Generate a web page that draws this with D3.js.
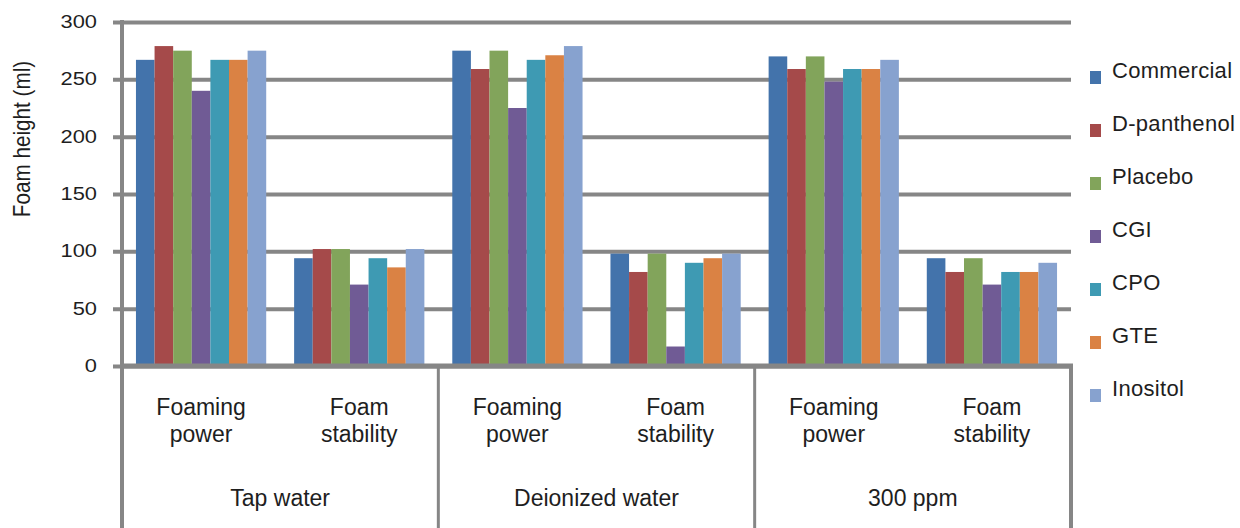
<!DOCTYPE html>
<html>
<head>
<meta charset="utf-8">
<script src="https://cdn.jsdelivr.net/npm/d3@7/dist/d3.min.js"></script>
<style>
  html, body { margin: 0; padding: 0; background: #ffffff; }
  svg { display: block; }
  text { font-family: "Liberation Sans", Arial, sans-serif; fill: #1e1e1e; }
</style>
</head>
<body>
<svg id="chart" width="1240" height="528"></svg>
<script>
// Water types (outer categories) and the two measurements inside each
const waterTypes = ["Tap water", "Deionized water", "300 ppm"];
const measures = [["Foaming", "power"], ["Foam", "stability"]];

// Formulations (series)
const seriesNames = ["Commercial", "D-panthenol", "Placebo", "CGI", "CPO", "GTE", "Inositol"];
const seriesColors = ["#4373ab", "#a54a4a", "#82a45b", "#705b95", "#3e9ab3", "#da8244", "#87a2cf"];

// Foam height (ml) in order: Tap FP, Tap FS, Deionized FP, Deionized FS, 300 ppm FP, 300 ppm FS
const commercial = [267, 94, 275, 98, 270, 94];
const dPanthenol = [279, 102, 259, 82, 259, 82];
const placebo    = [275, 102, 275, 98, 270, 94];
const cgi        = [240, 71, 225, 17, 248, 71];
const cpo        = [267, 94, 267, 90, 259, 82];
const gte        = [267, 86, 271, 94, 259, 82];
const inositol   = [275, 102, 279, 98, 267, 90];

const yTicks = [0, 50, 100, 150, 200, 250, 300];
const yTitle = "Foam height (ml)";

const seriesValues = [commercial, dPanthenol, placebo, cgi, cpo, gte, inositol];

// Flattened sub-categories: one per (water type, measure)
const subCats = [];
waterTypes.forEach((w, wi) => measures.forEach((m, mi) => subCats.push({ key: wi * 2 + mi, water: w, label: m })));

const rows = [];
seriesNames.forEach((s, si) => {
  seriesValues[si].forEach((v, ci) => rows.push({ series: s, cat: ci, value: v, color: seriesColors[si] }));
});

const svg = d3.select("#chart");
const plotLeft = 122, plotRight = 1071, plotTop = 22, plotBottom = 366;
const gridColor = "#868686";

const x0 = d3.scaleBand().domain(subCats.map(d => d.key)).range([plotLeft, plotRight]).paddingInner(0).paddingOuter(0);
const x1 = d3.scaleBand().domain(seriesNames).range([0, x0.bandwidth()]).paddingInner(0).paddingOuter(0.75);
const y = d3.scaleLinear().domain([0, 300]).range([plotBottom, plotTop]);

// Horizontal gridlines with tick labels
const yAxis = d3.axisLeft(y)
  .tickValues(yTicks)
  .tickSizeInner(-(plotRight - 113))
  .tickSizeOuter(0)
  .tickPadding(16)
  .tickFormat(d3.format("d"));

const gy = svg.append("g").attr("transform", "translate(113,0)").call(yAxis);
gy.select(".domain").remove();
gy.selectAll(".tick line").attr("stroke", gridColor).attr("stroke-width", 4);
gy.selectAll(".tick text")
  .attr("x", null)
  .attr("dy", "0.35em")
  .attr("transform", "translate(-16,-1) scale(1.15,1)")
  .attr("font-size", 19)
  .attr("font-family", "'Liberation Sans', Arial, sans-serif")
  .attr("fill", "#1e1e1e");

// Bars
svg.append("g")
  .selectAll("rect")
  .data(rows)
  .join("rect")
  .attr("x", d => x0(d.cat) + x1(d.series))
  .attr("y", d => y(d.value))
  .attr("width", x1.bandwidth())
  .attr("height", d => y(0) - y(d.value))
  .attr("fill", d => d.color);

// Value axis line and category axis line
svg.append("line")
  .attr("x1", plotLeft).attr("x2", plotLeft)
  .attr("y1", plotTop - 2).attr("y2", 528)
  .attr("stroke", gridColor).attr("stroke-width", 4);
svg.append("line")
  .attr("x1", plotLeft - 2).attr("x2", plotRight + 2)
  .attr("y1", plotBottom).attr("y2", plotBottom)
  .attr("stroke", gridColor).attr("stroke-width", 5);

// Separators between water types in the category area
const bounds = [x0(0), x0(2), x0(4), plotRight];
svg.append("g")
  .selectAll("line")
  .data(bounds)
  .join("line")
  .attr("x1", d => d).attr("x2", d => d)
  .attr("y1", plotBottom).attr("y2", 528)
  .attr("stroke", gridColor)
  .attr("stroke-width", (d, i) => (i === 0 || i === bounds.length - 1) ? 4 : 3);

// Measure labels (two lines)
const mLabels = svg.append("g")
  .selectAll("text")
  .data(subCats)
  .join("text")
  .attr("text-anchor", "middle")
  .attr("font-size", 23)
  .attr("x", d => x0(d.key) + x0.bandwidth() / 2)
  .attr("y", 415);
mLabels.append("tspan").text(d => d.label[0]);
mLabels.append("tspan")
  .attr("x", d => x0(d.key) + x0.bandwidth() / 2)
  .attr("dy", 27)
  .text(d => d.label[1]);

// Water type labels
svg.append("g")
  .selectAll("text")
  .data(waterTypes)
  .join("text")
  .attr("text-anchor", "middle")
  .attr("font-size", 23)
  .attr("x", (d, i) => (x0(i * 2) + x0(i * 2 + 1) + x0.bandwidth()) / 2)
  .attr("y", 506)
  .text(d => d);

// Y axis title
svg.append("text")
  .attr("transform", "translate(30,139) rotate(-90) scale(0.9,1)")
  .attr("text-anchor", "middle")
  .attr("font-size", 23)
  .text(yTitle);

// Legend
const legend = svg.append("g")
  .selectAll("g")
  .data(seriesNames)
  .join("g")
  .attr("transform", (d, i) => `translate(1090,${70 + i * 53})`);
legend.append("rect")
  .attr("x", 0).attr("y", 1)
  .attr("width", 11).attr("height", 13)
  .attr("fill", (d, i) => seriesColors[i]);
legend.append("text")
  .attr("x", 22).attr("y", 0)
  .attr("dy", "0.35em")
  .attr("font-size", 22)
  .attr("letter-spacing", 0.3)
  .text(d => d);
</script>
</body>
</html>
